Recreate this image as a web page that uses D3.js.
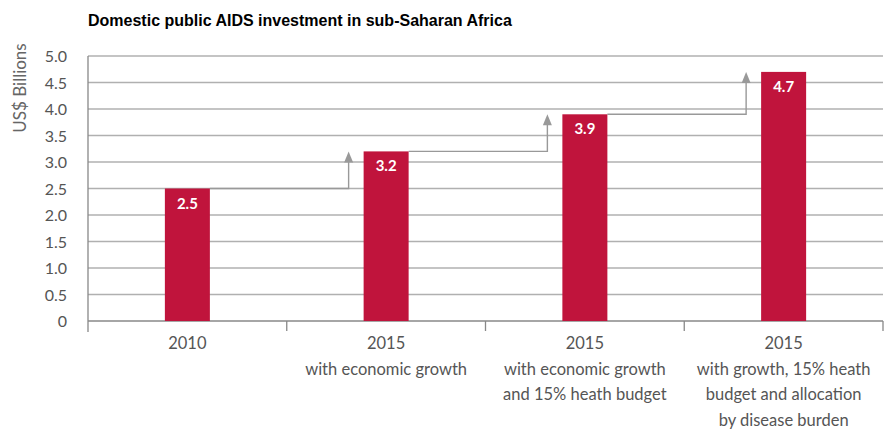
<!DOCTYPE html>
<html><head><meta charset="utf-8">
<script src="https://cdn.jsdelivr.net/npm/d3@7"></script>
<style>body{margin:0;background:#fff}svg{display:block}</style>
</head><body>
<script>
const title = "Domestic public AIDS investment in sub-Saharan Africa";
const yLabel = "US$ Billions";
const categories = ["c2010", "c2015a", "c2015b", "c2015c"];
const categoryLabels = [
  ["2010"],
  ["2015", "with economic growth"],
  ["2015", "with economic growth", "and 15% heath budget"],
  ["2015", "with growth, 15% heath", "budget and allocation", "by disease burden"]
];
const values = [2.5, 3.2, 3.9, 4.7];
const valueLabels = ["2.5", "3.2", "3.9", "4.7"];
const yTicks = [0, 0.5, 1, 1.5, 2, 2.5, 3, 3.5, 4, 4.5, 5];
const yTickLabels = ["0", "0.5", "1.0", "1.5", "2.0", "2.5", "3.0", "3.5", "4.0", "4.5", "5.0"];

(function () {
const W = 885, H = 435;
const svg = d3.select("body").append("svg").attr("width", W).attr("height", H);
const mLeft = 88, mRight = 883, mTop = 56, mBottom = 321;
const font = "Lato, 'Open Sans', sans-serif";
const grey = "#b0b0b0";
const barColor = "#c0143c";

const x = d3.scaleBand().domain(categories).range([mLeft, mRight]).padding(0);
const y = d3.scaleLinear().domain([0, 5]).range([mBottom, mTop]);
const barW = 45;

// title
svg.append("text").attr("x", 88).attr("y", 26)
  .attr("font-family", "Liberation Sans, Arial, sans-serif")
  .attr("font-weight", "bold").attr("font-size", 16).attr("fill", "#000")
  .text(title);

// gridlines
svg.append("g").selectAll("line").data(yTicks.filter(d => d > 0)).join("line")
  .attr("x1", mLeft).attr("x2", mRight)
  .attr("y1", d => y(d)).attr("y2", d => y(d))
  .attr("stroke", grey).attr("stroke-width", 1.4);

// y axis
const yAxis = d3.axisLeft(y).tickValues(yTicks).tickSize(0).tickPadding(0)
  .tickFormat((d, i) => yTickLabels[i]);
const gy = svg.append("g").attr("transform", `translate(${mLeft},0)`).call(yAxis);
gy.select(".domain").remove();
gy.selectAll("text").attr("x", -21).attr("font-family", font).attr("font-size", 16)
  .attr("fill", "#555").attr("dy", "0.35em");
svg.append("line").attr("x1", mLeft).attr("x2", mLeft).attr("y1", mTop).attr("y2", mBottom + 11)
  .attr("stroke", "#888").attr("stroke-width", 1.3);

// x axis baseline + ticks
svg.append("line").attr("x1", mLeft).attr("x2", mRight).attr("y1", mBottom).attr("y2", mBottom)
  .attr("stroke", "#888").attr("stroke-width", 1.3);
const bounds = categories.map(c => x(c) + x.bandwidth());
svg.append("g").selectAll("line").data(bounds).join("line")
  .attr("x1", d => d).attr("x2", d => d).attr("y1", mBottom).attr("y2", mBottom + 10)
  .attr("stroke", "#888").attr("stroke-width", 1.3);

// y label
svg.append("text").attr("transform", `translate(26,88) rotate(-90)`)
  .attr("text-anchor", "middle").attr("font-family", font).attr("font-size", 17)
  .attr("fill", "#666").text(yLabel);

// arrows
const arrowColor = "#999";
const arrowG = svg.append("g");
values.forEach((v, i) => {
  if (i === 0) return;
  const prev = values[i - 1];
  const x0 = x(categories[i - 1]) + x.bandwidth() / 2 + barW / 2;
  const xa = x(categories[i]) + x.bandwidth() / 2 - barW / 2 - 15;
  const yp = y(prev), yc = y(v);
  arrowG.append("path")
    .attr("d", `M${x0},${yp}H${xa}V${yc + 9}`)
    .attr("fill", "none").attr("stroke", arrowColor).attr("stroke-width", 1.4);
  arrowG.append("path")
    .attr("d", `M${xa},${yc}L${xa - 4.5},${yc + 11}L${xa + 4.5},${yc + 11}Z`)
    .attr("fill", arrowColor);
});

// bars
svg.append("g").selectAll("rect").data(values).join("rect")
  .attr("x", (d, i) => x(categories[i]) + x.bandwidth() / 2 - barW / 2)
  .attr("width", barW)
  .attr("y", d => y(d)).attr("height", d => mBottom - y(d))
  .attr("fill", barColor);

svg.append("g").selectAll("text").data(values).join("text")
  .attr("x", (d, i) => x(categories[i]) + x.bandwidth() / 2)
  .attr("y", d => y(d) + 20)
  .attr("text-anchor", "middle").attr("font-family", font).attr("font-weight", "bold")
  .attr("font-size", 15).attr("fill", "#fff")
  .text((d, i) => valueLabels[i]);

// category labels
categoryLabels.forEach((lines, i) => {
  const cx = x(categories[i]) + x.bandwidth() / 2;
  const t = svg.append("text")
    .attr("text-anchor", "middle").attr("font-family", font).attr("font-size", 16.5)
    .attr("fill", "#555");
  lines.forEach((ln, j) => {
    t.append("tspan").attr("x", cx).attr("y", 349 + j * 25.7).text(ln);
  });
});
})();
</script>
</body></html>
